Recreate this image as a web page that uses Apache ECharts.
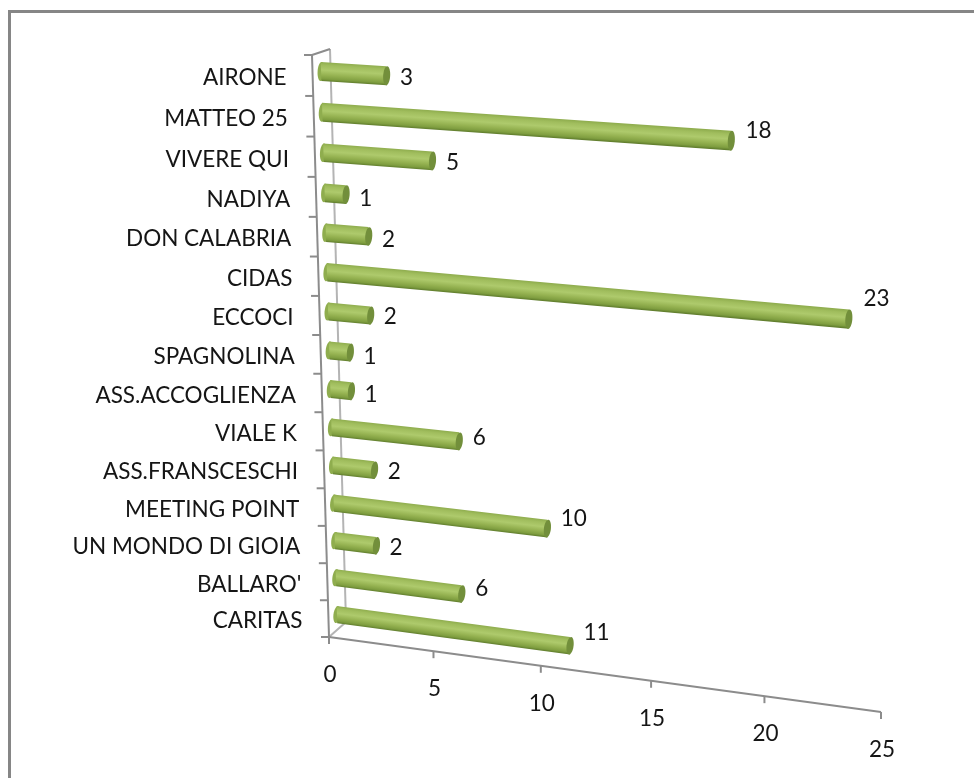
<!DOCTYPE html>
<html>
<head>
<meta charset="utf-8">
<style>html,body{margin:0;padding:0;background:#fff}#c{width:974px;height:778px}</style>
<script src="https://cdn.jsdelivr.net/npm/echarts@6/dist/echarts.min.js"></script>
</head>
<body>
<div id="c"></div>
<script>
// ---- data (bottom to top, as on the axis) ----
const categories = ['CARITAS', "BALLARO'", 'UN MONDO DI GIOIA', 'MEETING POINT', 'ASS.FRANSCESCHI', 'VIALE K', 'ASS.ACCOGLIENZA', 'SPAGNOLINA', 'ECCOCI', 'CIDAS', 'DON CALABRIA', 'NADIYA', 'VIVERE QUI', 'MATTEO 25', 'AIRONE'];
const values = [11, 6, 2, 10, 2, 6, 1, 1, 2, 23, 2, 1, 5, 18, 3];
const valueTicks = [0, 5, 10, 15, 20, 25];

// ---- perspective of the 3D plot (front plane corners, in page pixels) ----
const CORNERS = {p00: [329, 637], p10: [881, 712], p11: [898, 91], p01: [312, 55]};
const BAR_SHIFT = [8.5, -4];
const BAR_LENGTH_SCALE = 0.996;
const BAR_HALF = 0.232;     // half thickness, in category bands
const VALUE_LABEL_NUDGE_Y = [-13, -5, 1.5, -9.5, 1.5, -4, 3.5, 4.5, 1.5, -21, 3.5, 4.5, 1.5, -10.5, 2.5];
const FONT = '22.5px Lato, "Open Sans", sans-serif';
const TEXT = '#151515';
const AXIS = '#8c8c8c';
const WALL = '#b4b4b4';

function makeProjection(c) {
  const [x0, y0] = c.p00, [x1, y1] = c.p10, [x2, y2] = c.p11, [x3, y3] = c.p01;
  const dx1 = x1 - x2, dx2 = x3 - x2, sx = x0 - x1 + x2 - x3;
  const dy1 = y1 - y2, dy2 = y3 - y2, sy = y0 - y1 + y2 - y3;
  const den = dx1 * dy2 - dx2 * dy1;
  const g = (sx * dy2 - dx2 * sy) / den, h = (dx1 * sy - sx * dy1) / den;
  const a = x1 - x0 + g * x1, b = x3 - x0 + h * x3;
  const d = y1 - y0 + g * y1, e = y3 - y0 + h * y3;
  return (u, w) => {
    const q = g * u + h * w + 1;
    return [(a * u + b * w + x0) / q, (d * u + e * w + y0) / q];
  };
}
const project = makeProjection(CORNERS);

// library scale -> unit square -> perspective plane
function unit(api, params, v, i) {
  const p = api.coord([v, i]);
  const s = params.coordSys;
  return [(p[0] - s.x) / s.width, 1 - (p[1] - s.y) / s.height];
}
function bandW() { return 1 / categories.length; }
function line(a, b, color, width) {
  return {type: 'line', shape: {x1: a[0], y1: a[1], x2: b[0], y2: b[1]}, style: {stroke: color, lineWidth: width}};
}
function label(text, x, y, align) {
  return {type: 'text', style: {text: text, x: x, y: y, align: align, verticalAlign: 'middle', font: FONT, fill: TEXT}};
}
function backOf(w) {
  const p = project(0, w);
  return [p[0] + 17 + w, p[1] - 15 + 9 * w];
}

function renderFrame() {
  const bl = project(0, 0), br = project(1, 0), tl = project(0, 1);
  const b0 = backOf(0), b1 = backOf(1);
  return {type: 'group', children: [
    line(bl, b0, WALL, 2),
    line(b0, b1, WALL, 2),
    line(tl, b1, AXIS, 2),
    line(bl, tl, AXIS, 2),
    line(bl, br, AXIS, 2)
  ]};
}

function renderValueTick(params, api) {
  const v = api.value(0);
  const [u] = unit(api, params, v, 0);
  const p = project(u, 0);
  return {type: 'group', children: [
    line(p, [p[0], p[1] + 7], AXIS, 2),
    label(String(v), p[0] + 1, p[1] + 37.5, 'center')
  ]};
}

function renderCategory(params, api) {
  const i = api.value(1);
  const [, w] = unit(api, params, 0, i);
  const band = bandW();
  const p = project(0, w);
  const t = project(0, w - band / 2);
  const kids = [line(t, [t[0] - 8, t[1]], AXIS, 2)];
  if (i === categories.length - 1) {
    const t2 = project(0, w + band / 2);
    kids.push(line(t2, [t2[0] - 8, t2[1]], AXIS, 2));
  }
  kids.push(label(categories[i], p[0] - 26, p[1] + 2.5, 'right'));
  return {type: 'group', children: kids};
}

function renderBar(params, api) {
  const v = api.value(0), i = api.value(1);
  const [u0, w] = unit(api, params, v, i);
  const u = u0 * BAR_LENGTH_SCALE;
  const band = bandW(), hw = BAR_HALF * band;
  const P = (uu, ww) => {
    const q = project(uu, ww);
    return [q[0] + BAR_SHIFT[0], q[1] + BAR_SHIFT[1]];
  };
  const st = P(0, w + hw), sb = P(0, w - hw), et = P(u, w + hw), eb = P(u, w - hw);
  const sm = P(0, w), em = P(u, w);
  const dx = em[0] - sm[0], dy = em[1] - sm[1], len = Math.hypot(dx, dy);
  const nx = -dy / len, ny = dx / len;
  const th = Math.hypot(st[0] - sb[0], st[1] - sb[1]);
  const grad = new echarts.graphic.LinearGradient(
    sm[0] - nx * th / 2, sm[1] - ny * th / 2, sm[0] + nx * th / 2, sm[1] + ny * th / 2,
    [
      {offset: 0, color: '#8fad4e'},
      {offset: 0.16, color: '#a0bd5d'},
      {offset: 0.42, color: '#aeca6c'},
      {offset: 0.68, color: '#95b251'},
      {offset: 0.88, color: '#7f9e40'},
      {offset: 1, color: '#607d2d'}
    ], true);
  const rot = -Math.atan2(dy, dx);
  const eth = Math.hypot(et[0] - eb[0], et[1] - eb[1]);
  return {type: 'group', children: [
    {type: 'ellipse', x: sm[0], y: sm[1], rotation: rot, shape: {cx: 0, cy: 0, rx: 3.5, ry: th / 2}, style: {fill: grad}},
    {type: 'polygon', shape: {points: [st, et, eb, sb]}, style: {fill: grad}},
    {type: 'ellipse', x: em[0], y: em[1], rotation: rot, shape: {cx: 0, cy: 0, rx: 3.5, ry: eth / 2}, style: {fill: '#728f3b'}}
  ]};
}

function renderValueLabel(params, api) {
  const v = api.value(0), i = api.value(1);
  const [u, w] = unit(api, params, v, i);
  const q = project(u, w);
  const dx = v >= 10 ? 28 : 22;
  return label(String(v), q[0] + 6 + dx, q[1] + BAR_SHIFT[1] + VALUE_LABEL_NUDGE_Y[i], 'center');
}

const barData = values.map((v, i) => [v, i]);
const option = {
  animation: false,
  backgroundColor: '#ffffff',
  grid: {left: 100, right: 100, top: 60, bottom: 60, containLabel: false},
  xAxis: {type: 'value', min: 0, max: 25, interval: 5, show: false},
  yAxis: {type: 'category', data: categories, show: false},
  graphic: [{
    type: 'polyline', silent: true,
    shape: {points: [[9.5, 778], [9.5, 11.5], [974, 11.5]]},
    style: {stroke: '#868686', lineWidth: 3, fill: 'none'}
  }],
  series: [
    {type: 'custom', silent: true, clip: false, z: 1, data: [[0, 0]], renderItem: renderFrame},
    {type: 'custom', silent: true, clip: false, z: 2, data: valueTicks.map(v => [v, 0]), renderItem: renderValueTick},
    {type: 'custom', silent: true, clip: false, z: 2, data: barData, renderItem: renderCategory},
    {type: 'custom', silent: true, clip: false, z: 3, data: barData, renderItem: renderBar},
    {type: 'custom', silent: true, clip: false, z: 4, data: barData, renderItem: renderValueLabel}
  ]
};
echarts.init(document.getElementById('c'), null, {renderer: 'canvas'}).setOption(option);
</script>
</body>
</html>
